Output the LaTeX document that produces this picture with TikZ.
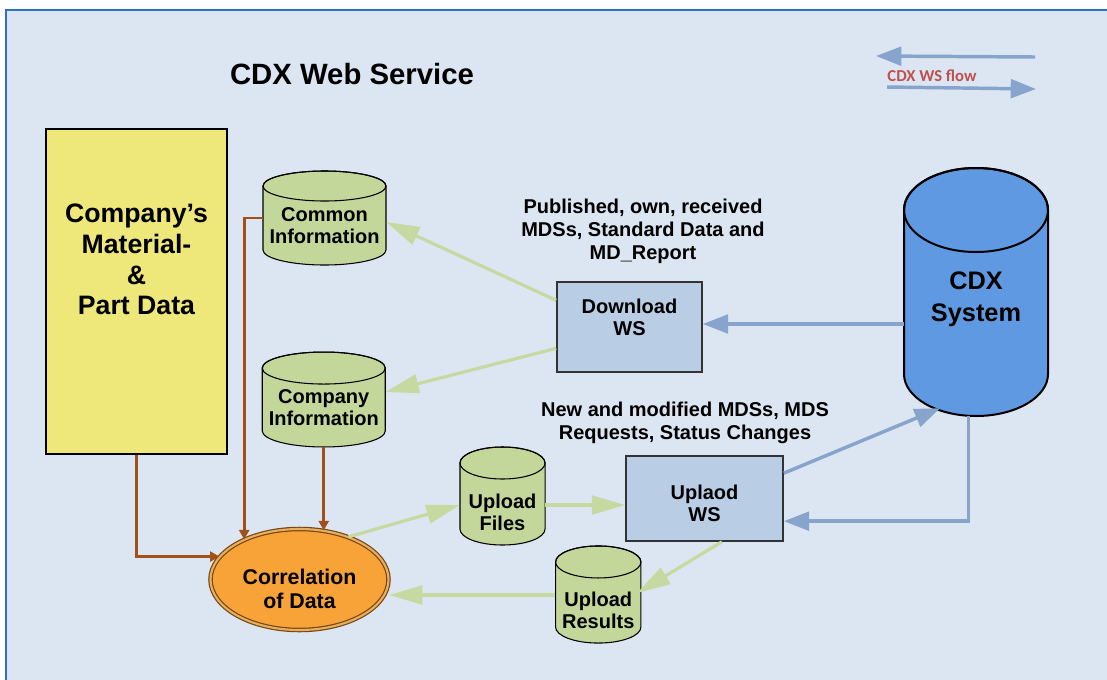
\documentclass[tikz,border=0pt]{standalone}
\usepackage{fontspec}
\setmainfont{Liberation Sans}
\newfontfamily\legendfont{Carlito}
\usepackage{tikz}
\usetikzlibrary{positioning,calc}
\usetikzlibrary{arrows.meta, shapes.geometric}

\definecolor{bgblue}{RGB}{220,230,242}
\definecolor{frameblue}{RGB}{46,110,196}
\definecolor{padyellow}{RGB}{238,232,122}
\definecolor{dbgreen}{RGB}{196,215,155}
\definecolor{arrgreen}{RGB}{197,217,160}
\definecolor{wsblue}{RGB}{185,205,229}
\definecolor{arrblue}{RGB}{135,164,204}
\definecolor{cdxblue}{RGB}{95,153,225}
\definecolor{corrorange}{RGB}{247,163,56}
\definecolor{corredge}{RGB}{120,70,20}
\definecolor{corrring}{RGB}{230,175,95}
\definecolor{arrbrown}{RGB}{160,80,24}
\definecolor{legendred}{RGB}{192,80,77}

% cylinder body: x, y, radius, half height, cap, fill, line width
\newcommand{\dbcyl}[7]{%
  \draw[line width=#7, fill=#6] ([shift={({-#3pt},{#4pt-#5pt})}]#1,#2) -- ([shift={({-#3pt},{#5pt-#4pt})}]#1,#2)
    arc[start angle=180, end angle=360, x radius=#3pt, y radius=#5pt] -- ([shift={({#3pt},{#4pt-#5pt})}]#1,#2)
    arc[start angle=0, end angle=180, x radius=#3pt, y radius=#5pt] -- cycle;
  \draw[line width=#7] ([shift={(0pt,{#4pt-#5pt})}]#1,#2) ellipse[x radius=#3pt, y radius=#5pt];
}

\tikzstyle{datbox} = [rectangle, draw=black, line width=1.5pt, fill=padyellow, minimum width=135.75pt, minimum height=243.75pt]
\tikzstyle{db} = [rectangle, inner sep=0pt, align=center, font=\fontsize{15}{16.5}\selectfont\bfseries]
\tikzstyle{ws} = [rectangle, draw=black!80, line width=1.2pt, fill=wsblue]
\tikzstyle{wstext} = [align=center, font=\fontsize{15}{16.5}\selectfont\bfseries]
\tikzstyle{note} = [align=center, font=\fontsize{15}{17.25}\selectfont\bfseries]
\tikzstyle{garrow} = [draw=arrgreen, line width=2.4pt, -{Triangle[length=25pt,width=14pt]}]
\tikzstyle{barrow} = [draw=arrblue, line width=2.6pt, -{Triangle[length=19pt,width=14pt]}]
\tikzstyle{rarrow} = [draw=arrbrown, line width=2pt, -{Triangle[length=7pt,width=7.5pt]}]

\begin{document}
\begin{tikzpicture}[x=0.75pt,y=-0.75pt]
    \useasboundingbox (0,0) rectangle (1107,679);
    \fill[bgblue] (6,10) rectangle (1115,690);
    \draw[frameblue, line width=0.8pt] (6,690) -- (6,10) -- (1115,10);

    \node[font=\fontsize{22}{26}\selectfont\bfseries] (title) at (352,74) {CDX Web Service};

    % legend
    \coordinate (legA) at (1035,57);
    \coordinate (legB) at (876,56);
    \coordinate (legC) at (887,87);
    \coordinate (legD) at (1036,89);
    \draw [barrow] (legA) -- (legB);
    \draw [barrow] (legC) -- (legD);
    \node[text=legendred, font=\fontsize{12.5}{14}\legendfont\bfseries] (legtext) at (932,76) {CDX WS flow};

    % stores
    \node[datbox] (compdata) at (136.5,291.5) {};
    \node[align=center, font=\fontsize{20}{23}\selectfont\bfseries] (compdatatext) at (136.5,259.5) {Company’s\\Material-\\\&\\Part Data};

    \dbcyl{324.5}{218}{46.125}{35.25}{11.25}{dbgreen}{0.8pt}
    \dbcyl{323.75}{399.5}{46.125}{35.6}{12}{dbgreen}{0.8pt}
    \dbcyl{502.5}{496}{31.9}{36.75}{12}{dbgreen}{0.8pt}
    \dbcyl{598.25}{594.5}{32}{36.4}{12}{dbgreen}{0.8pt}
    \dbcyl{976}{292}{54}{93}{31.5}{cdxblue}{1.5pt}

    \node[db, minimum width=92.25pt, minimum height=58.5pt] (comminfo) at (324.5,226) {Common\\Information};
    \node[db, minimum width=92.25pt, minimum height=59.25pt] (compinfo) at (323.75,407.5) {Company\\Information};
    \node[db, minimum width=63.75pt, minimum height=49.5pt] (upfiles) at (502.5,512) {Upload\\Files};
    \node[db, minimum width=64pt, minimum height=49.5pt] (upres) at (598.25,610) {Upload\\Results};
    \node[db, minimum width=108pt, minimum height=175.5pt, font=\fontsize{19}{24}\selectfont\bfseries] (cdx) at (976,299) {CDX\\System};

    % services
    \node[ws, minimum width=108.75pt, minimum height=67.5pt, label={[wstext, yshift=7.5pt]center:{Download\\WS}}] (dlws) at (629.5,327) {};
    \node[ws, minimum width=117.75pt, minimum height=63.75pt, label={[wstext, yshift=-3.75pt]center:{Uplaod\\WS}}] (ulws) at (704.5,498.5) {};
    \node[ellipse, draw=corredge, double=corrring, double distance=1.6pt, line width=0.9pt, fill=corrorange, minimum width=133.5pt, minimum height=75.75pt,
          label={[align=center, font=\fontsize{16}{18}\selectfont\bfseries, yshift=-7pt]center:{Correlation\\of Data}}] (corr) at (299.5,579.5) {};

    \node[note] (dltext) at (643,231) {Published, own, received\\MDSs, Standard Data and\\MD\_Report};
    \node[note] (ultext) at (685,422.5) {New and modified MDSs, MDS\\Requests, Status Changes};

    % download side
    \draw [barrow] ([yshift=-18.75pt]cdx.west) -- ([yshift=-18.75pt]cdx.west -| dlws.east);
    \draw [garrow] ([yshift=20pt]dlws.west) -- ([yshift=3pt]comminfo.east);
    \draw [garrow] ([yshift=-16pt]dlws.west) -- ([yshift=11.6pt]compinfo.east);

    % correlation inputs
    \draw [rarrow] (compdata.south) |- (corr.164.6);
    \draw [rarrow] ([yshift=6pt]comminfo.west) -| (corr.144);
    \draw [rarrow] (compinfo.south) -- (compinfo.south |- corr.64);

    % upload side
    \draw [garrow] (corr.41) -- ([yshift=5.25pt]upfiles.west);
    \draw [garrow] ([yshift=5.25pt]upfiles.east) -- ([yshift=5.25pt]upfiles.east -| ulws.west);
    \draw [barrow] ([yshift=19pt]ulws.east) -- ([xshift=-27pt,yshift=6pt]cdx.south);
    \draw [barrow] ([xshift=-5.5pt]cdx.south) |- ([yshift=-17pt]ulws.east);
    \draw [garrow] ([xshift=13pt]ulws.south) -- ([xshift=-3pt,yshift=12.75pt]upres.east);
    \draw [garrow] ([yshift=11.25pt]upres.west) -- ([yshift=11.25pt]upres.west -| corr.east);

\end{tikzpicture}
\end{document}
